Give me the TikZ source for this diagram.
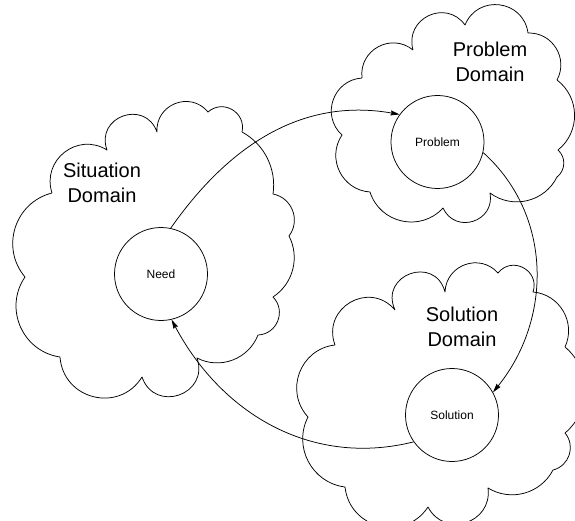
\documentclass[tikz,border=0pt]{standalone}
\usepackage{fontspec}
\setmainfont{Liberation Sans}
\usetikzlibrary{arrows.meta}
\tikzset{
  cbump/.style={bend left=#1, /utils/exec={\pgfmathsetmacro\bumpL{1.703/(1+cos(#1))}}, looseness=\bumpL},
  cloudline/.style={line width=0.75pt, line join=round},
  circ/.style={circle, draw, line width=0.75pt, fill=white, minimum size=93pt, inner sep=0pt, font=\fontsize{12}{14}\selectfont},
  dom/.style={align=center, inner sep=0pt, font=\fontsize{20}{25}\selectfont},
  flow/.style={line width=0.75pt, -{Stealth[length=9pt,width=5pt,inset=1pt]}}
}
\begin{document}
\begin{tikzpicture}[x=1pt,y=1pt]
\useasboundingbox (0,0) rectangle (575,520);
\fill[white] (0,0) rectangle (575,520);
% Situation cloud
\draw[cloudline] (52,327) to[cbump=70] (107,370) to[cbump=90] (157,388) to[cbump=72] (208,408)
  to[cbump=72] (242,388) to[cbump=35] (273,326) to[cbump=58] (289,284) to[cbump=42] (273,223)
  to[cbump=66] (258,185) to[cbump=48] (197,162) to[cbump=90] (142,143) to[cbump=72] (60,163)
  to[cbump=58] (25,243) to[cbump=58] (52,327);
% Problem cloud
\draw[cloudline] (413,470) to[cbump=80] (465,495) to[cbump=75] (528,487) to[cbump=60] (557,440)
  to[cbump=52] (558,370) to[cbump=50] (557,343) to[cbump=50] (490,327) to[cbump=83] (443,312)
  to[cbump=60] (370,328) to[cbump=60] (342,385) to[cbump=67] (362,442) to[cbump=68] (413,470);
% Solution cloud
\draw[cloudline] (395,210) to[cbump=95] (445,228) to[cbump=68] (498,247) to[cbump=80] (533,228)
  to[cbump=55] (565,173) to[cbump=50] (565,87) to[cbump=58] (553,50) to[cbump=47] (488,32)
  to[cbump=80] (428,13) to[cbump=70] (345,33) to[cbump=55] (308,103) to[cbump=63] (335,175)
  to[cbump=80] (395,210);
% domain labels
\node[dom] (sitlab) at (102,337) {Situation\\Domain};
\node[dom] (problab) at (490,458) {Problem\\Domain};
\node[dom] (sollab) at (462,193) {Solution\\Domain};
% circles
\node[circ] (need) at (161,246) {Need};
\node[circ] (prob) at (437.5,378) {Problem};
\node[circ] (sol) at (452,105) {Solution};
% arrows
\draw[flow] (need.78) to[out=55, in=170] (prob.144);
\draw[flow] (prob.-13) to[out=-42, in=51] (sol.29);
\draw[flow] (sol.215) to[out=194, in=-62] (need.-77);
\end{tikzpicture}
\end{document}
